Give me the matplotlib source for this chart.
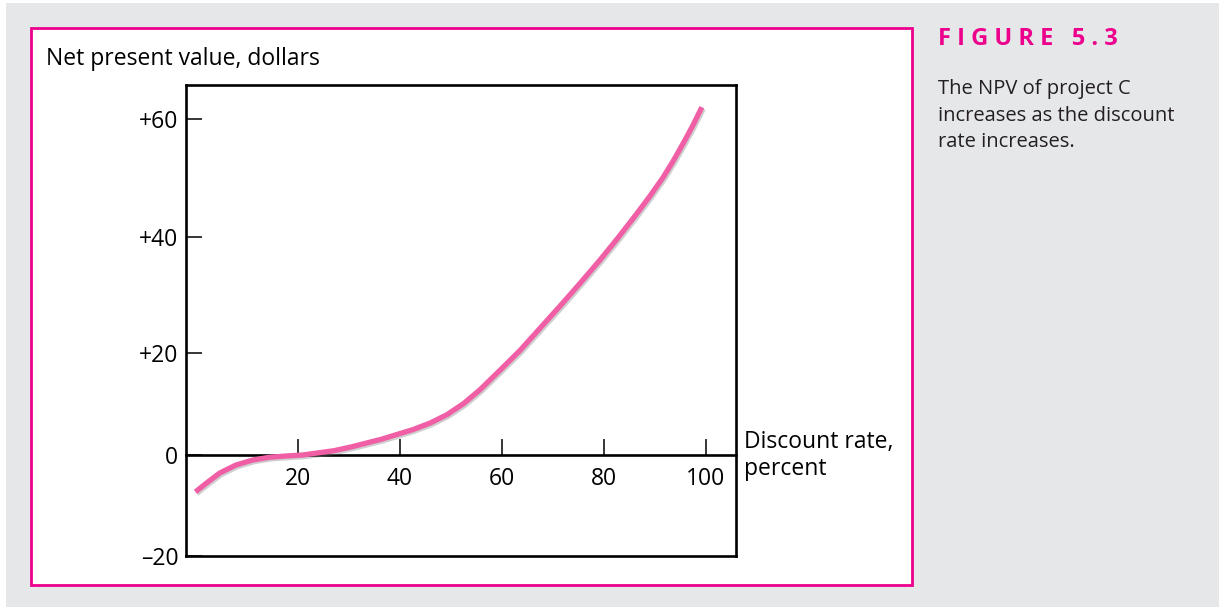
import numpy as np
import matplotlib
matplotlib.use('Agg')
import matplotlib.pyplot as plt
import matplotlib.patheffects as pe
from matplotlib.patches import Rectangle

# Data (discount rate in percent, NPV in dollars)
rate = [-0.1, 2.0, 4.6, 7.8, 11.1, 14.4, 17.6, 20.9, 24.2, 27.1, 30.5, 36.4,
        42.6, 46.0, 49.2, 52.5, 55.7, 59.6, 63.5, 67.5, 71.4, 75.3, 79.2,
        82.8, 86.4, 89.0, 91.6, 93.6, 95.5, 97.5, 99.2]
npv = [-7.3, -5.6, -3.6, -2.0, -1.0, -0.45, -0.2, 0.0, 0.45, 0.85, 1.6, 3.1,
       5.0, 6.3, 7.9, 10.1, 12.8, 16.6, 20.4, 24.3, 28.1, 32.0, 36.0,
       39.9, 43.9, 46.9, 50.1, 52.9, 55.8, 59.0, 62.0]

x_ticks = [20, 40, 60, 80, 100]
y_ticks = [-20, 0, 20, 40, 60]
y_labels = ['\u201320', '0', '+20', '+40', '+60']

caption = ['The NPV of project C', 'increases as the discount', 'rate increases.']

pink = '#ec008c'
curve_col = '#f05fa6'
gray = '#e6e7e9'

plt.rcParams['font.family'] = ['Open Sans', 'DejaVu Sans']

W, H = 1219, 607
fig = plt.figure(figsize=(W / 100, H / 100), dpi=100)
fig.patch.set_facecolor('white')

# grey page and the pink framed panel
fig.patches.append(Rectangle((6 / W, 0), 1, 1 - 3 / H, transform=fig.transFigure,
                             facecolor=gray, edgecolor='none', zorder=0))
fig.patches.append(Rectangle((31 / W, 1 - 585 / H), (912 - 31) / W, (585 - 28) / H,
                             transform=fig.transFigure, facecolor='white',
                             edgecolor=pink, lw=2, zorder=1))

ax = fig.add_axes([186 / W, 1 - 556 / H, (736 - 186) / W, (556 - 85) / H])
ax.set_zorder(2)

# the printed axis is not evenly spaced; piecewise scale to follow it
yk = np.array([-100, -20, 0, 20, 40, 60, 200])
yp = np.array([-404, 0, 101, 203, 319, 437, 437 + 140 * 5.9])
ax.set_yscale('function', functions=(lambda v: np.interp(v, yk, yp),
                                      lambda v: np.interp(v, yp, yk)))

ax.plot(rate, npv, color=curve_col, lw=3.8, solid_capstyle='butt',
        solid_joinstyle='round',
        path_effects=[pe.SimpleLineShadow(offset=(1.0, -1.2), alpha=0.35, shadow_color='#777777'),
                      pe.Normal()], zorder=3)

ax.set_xlim(-1.96, 105.9)
ax.set_ylim(-20, 65.76)

for s in ax.spines.values():
    s.set_linewidth(1.9)
    s.set_color('black')
ax.spines['bottom'].set_position(('data', 0))
ax.plot([0, 1], [0, 0], transform=ax.transAxes, color='black', lw=1.9,
        clip_on=False, solid_capstyle='projecting')

ax.set_xticks(x_ticks)
ax.set_xticklabels([str(t) for t in x_ticks])
ax.set_yticks(y_ticks)
ax.set_yticklabels(y_labels)
ax.minorticks_off()
ax.tick_params(axis='x', direction='in', length=11.5, width=1.1, pad=8.5,
               labelsize=16.5, colors='black')
ax.tick_params(axis='y', direction='in', length=11.5, width=1.1, pad=5.5,
               labelsize=16.5, colors='black')

fig.text(46 / W, 1 - 65 / H, 'Net present value, dollars', fontsize=16.5,
         ha='left', va='baseline')
fig.text(744 / W, 1 - 448 / H, 'Discount rate,', fontsize=16.5,
         ha='left', va='baseline')
fig.text(744 / W, 1 - 475 / H, 'percent', fontsize=16.5,
         ha='left', va='baseline')

fig.text(938 / W, 1 - 45 / H, 'F I G U R E   5 . 3', fontsize=17,
         fontweight='bold', color=pink, ha='left', va='baseline')
for i, line in enumerate(caption):
    fig.text(938 / W, 1 - (94 + 26.5 * i) / H, line, fontsize=14.5,
             color='#231f20', ha='left', va='baseline')

fig.savefig('out.png', dpi=100, facecolor=fig.get_facecolor())
